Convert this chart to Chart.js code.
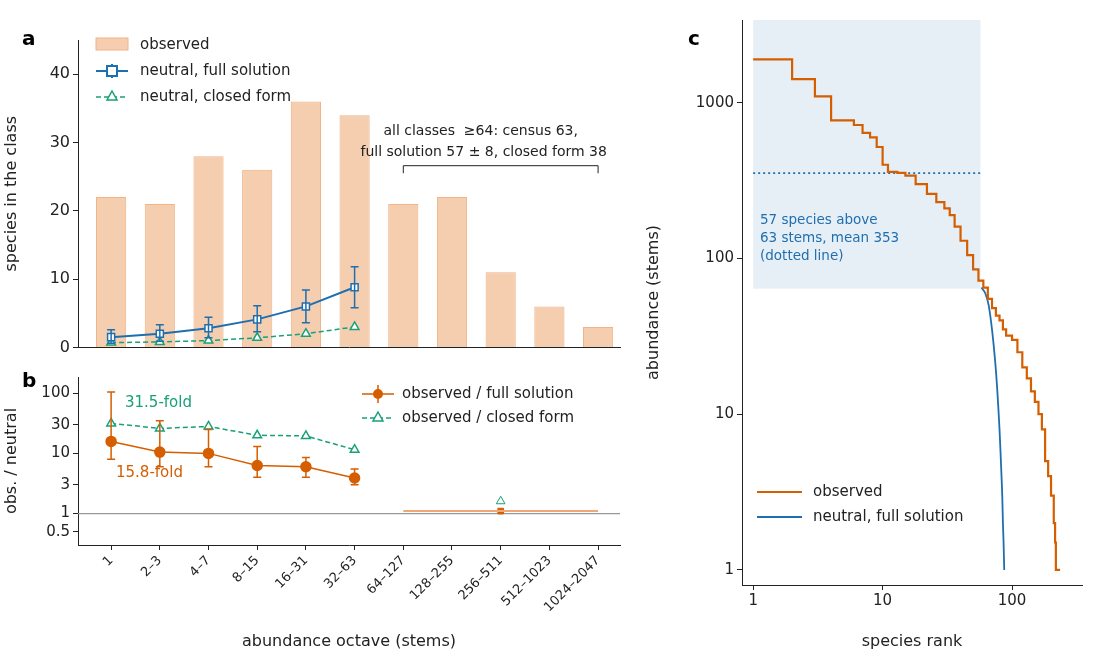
<!DOCTYPE html>
<html><head><meta charset="utf-8">
<script src="https://cdn.jsdelivr.net/npm/chart.js@4/dist/chart.umd.min.js"></script>
<style>body{margin:0;background:#fff;width:1100px;height:655px;position:relative;overflow:hidden}canvas{position:absolute}</style>
</head><body>
<canvas id="ca" style="left:0;top:0;width:640px;height:360px"></canvas>
<canvas id="cb" style="left:0;top:365px;width:640px;height:290px"></canvas>
<canvas id="cc" style="left:640px;top:0;width:460px;height:655px"></canvas>
<script>
const octaves=["1","2–3","4–7","8–15","16–31","32–63","64–127","128–255","256–511","512–1023","1024–2047"];
const observed=[22,21,28,26,36,34,21,22,11,6,3];
const fullSol=[1.5,2.0,2.8,4.1,6.0,8.8];
const fullLo=[0.6,0.9,1.4,2.3,3.6,5.8];
const fullHi=[2.6,3.3,4.4,6.1,8.4,11.8];
const closedForm=[0.7,0.8,1.0,1.4,2.0,3.0];
const ratioFull=[15.8,10.5,10,6.3,6,3.9];
const ratioFullLo=[8,6,6,4,4,3];
const ratioFullHi=[105,35,25,13,8.5,5.5];
const ratioClosed=[31.5,26,28,20,19.5,11.5];
const tailRatioFull=1.1, tailRatioClosed=1.6, tailIndex=8;
const obsRank=[1,2,3,4,5,6,7,8,9,10,11,13,15,18,22,26,30,33,36,40,45,50,55,60,65,70,75,80,85,90,100,110,120,130,140,150,160,170,180,190,200,210,215,218,235];
const obsAbund=[1900,1420,1100,770,770,720,640,600,520,400,360,355,340,300,260,230,210,190,160,130,105,85,72,65,55,48,43,40,35,32,30,25,20,17,14,12,10,8,5,4,3,2,1.5,1,1];
const neuRank=[58,62,66,70,74,77,80,82,84,85,86,87];
const neuAbund=[65,60,50,35,22,14,8,5,3,2,1.5,1];
const meanAbove=353, speciesAbove=57, censusThreshold=63;

const BLUE='#1f6fb0',GREEN='#18a078',ORANGE='#d55e00',FONT='"DejaVu Sans"';
Chart.defaults.font.family=FONT;Chart.defaults.color='#222';Chart.defaults.animation=false;
const fixW=w=>function(s){s.width=w};const fixH=h=>function(s){s.height=h};
const pts=(ys,off=0)=>ys.map((y,i)=>({x:i+off,y}));
const tickGrid={display:true,drawOnChartArea:false,drawTicks:true,tickLength:5,color:'#222',offset:false};

function errPlugin(lo,hi,color){return{id:'err',afterDatasetsDraw(c){const x=c.scales.x,y=c.scales.y,g=c.ctx;g.save();g.strokeStyle=color;g.lineWidth=1.5;
lo.forEach((l,i)=>{const px=x.getPixelForValue(i);g.beginPath();g.moveTo(px,y.getPixelForValue(l));g.lineTo(px,y.getPixelForValue(hi[i]));
g.moveTo(px-4,y.getPixelForValue(l));g.lineTo(px+4,y.getPixelForValue(l));g.moveTo(px-4,y.getPixelForValue(hi[i]));g.lineTo(px+4,y.getPixelForValue(hi[i]));g.stroke();});g.restore();}}}

// Panel a
new Chart(document.getElementById('ca'),{type:'bar',data:{datasets:[
{type:'bar',data:pts(observed),backgroundColor:'rgba(241,190,150,0.75)',borderColor:'#f0b488',borderWidth:1,barPercentage:0.62,categoryPercentage:1,order:3},
{type:'line',data:pts(fullSol),borderColor:BLUE,borderWidth:2,pointStyle:'rect',pointRadius:5,pointBackgroundColor:'#fff',pointBorderColor:BLUE,pointBorderWidth:1.5,order:1},
{type:'line',data:pts(closedForm),borderColor:GREEN,borderWidth:1.5,borderDash:[5,3],pointStyle:'triangle',pointRadius:5,pointBackgroundColor:'#fff',pointBorderColor:GREEN,order:2}]},
options:{responsive:false,devicePixelRatio:1,layout:{padding:{top:40,right:20,left:0,bottom:0}},plugins:{legend:{display:false},tooltip:{enabled:false}},
scales:{x:{type:'linear',offset:false,min:-0.68,max:10.45,afterBuildTicks(s){s.ticks=octaves.map((_,i)=>({value:i}))},ticks:{display:false},grid:{display:false,offset:false},border:{color:'#222'},afterFit:fixH(5)},
y:{min:0,max:45,afterBuildTicks(s){s.ticks=[0,10,20,30,40].map(v=>({value:v}))},ticks:{font:{size:16}},grid:tickGrid,border:{color:'#222'},title:{display:true,text:'species in the class',font:{size:16},padding:2},afterFit:fixW(78)}}},
plugins:[errPlugin(fullLo,fullHi,BLUE),{id:'ann',afterDraw(c){const g=c.ctx,x=c.scales.x,y=c.scales.y;g.save();
g.font='bold 20px '+FONT;g.fillStyle='#000';g.fillText('a',22,45);
g.font='15px '+FONT;g.textBaseline='middle';
g.fillStyle='rgba(241,190,150,0.75)';g.strokeStyle='#f0b488';g.fillRect(96,38,32,12);g.strokeRect(96,38,32,12);
g.fillStyle='#222';g.fillText('observed',140,45);
g.strokeStyle=BLUE;g.lineWidth=2;g.beginPath();g.moveTo(96,71);g.lineTo(128,71);g.moveTo(112,64);g.lineTo(112,78);g.stroke();g.fillStyle='#fff';g.fillRect(107,66,10,10);g.strokeRect(107,66,10,10);
g.fillStyle='#222';g.fillText('neutral, full solution',140,71);
g.strokeStyle=GREEN;g.lineWidth=1.5;g.setLineDash([5,3]);g.beginPath();g.moveTo(96,97);g.lineTo(128,97);g.stroke();g.setLineDash([]);
g.fillStyle='#fff';g.beginPath();g.moveTo(112,91);g.lineTo(117,100);g.lineTo(107,100);g.closePath();g.fill();g.stroke();
g.fillStyle='#222';g.fillText('neutral, closed form',140,97);
const x1=x.getPixelForValue(6),x2=x.getPixelForValue(10);g.strokeStyle='#222';g.lineWidth=1;g.beginPath();g.moveTo(x1,y.getPixelForValue(25.5));g.lineTo(x1,y.getPixelForValue(26.6));g.lineTo(x2,y.getPixelForValue(26.6));g.lineTo(x2,y.getPixelForValue(25.5));g.stroke();
g.textAlign='center';g.font='14px '+FONT;g.fillText('all classes  ≥64: census 63,',(x1+x2)/2-20,131);g.fillText('full solution 57 ± 8, closed form 38',(x1+x2)/2-17,152);
g.restore();}}]});

// Panel b
new Chart(document.getElementById('cb'),{type:'line',data:{datasets:[
{data:pts(ratioFull),borderColor:ORANGE,borderWidth:1.5,pointRadius:5,pointBackgroundColor:ORANGE,pointBorderColor:ORANGE},
{data:pts(ratioClosed),borderColor:GREEN,borderWidth:1.5,borderDash:[5,3],pointStyle:'triangle',pointRadius:5,pointBackgroundColor:'#fff',pointBorderColor:GREEN},
{data:[{x:tailIndex,y:tailRatioClosed}],pointStyle:'triangle',pointRadius:5,pointBackgroundColor:'#fff',pointBorderColor:GREEN,showLine:false},
{data:[{x:6,y:tailRatioFull},{x:10,y:tailRatioFull}],borderColor:'#f0a878',borderWidth:2,pointRadius:0},
{data:[{x:tailIndex,y:tailRatioFull}],pointStyle:'rect',pointRadius:4,pointBackgroundColor:ORANGE,pointBorderColor:ORANGE,showLine:false}]},
options:{responsive:false,devicePixelRatio:1,layout:{padding:{top:7,right:20}},plugins:{legend:{display:false},tooltip:{enabled:false}},
scales:{x:{type:'linear',min:-0.68,max:10.45,afterBuildTicks(s){s.ticks=octaves.map((_,i)=>({value:i}))},ticks:{autoSkip:false,maxRotation:45,minRotation:45,font:{size:13},callback:v=>octaves[v]},grid:tickGrid,border:{color:'#222'},title:{display:true,text:'abundance octave (stems)',font:{size:16},padding:{top:12}},afterFit:fixH(110)},
y:{type:'logarithmic',min:0.33,max:186,afterBuildTicks(s){s.ticks=[0.5,1,3,10,30,100].map(v=>({value:v}))},ticks:{font:{size:15}},grid:tickGrid,border:{color:'#222'},title:{display:true,text:'obs. / neutral',font:{size:16},padding:2},afterFit:fixW(78)}}},
plugins:[{id:'one',beforeDatasetsDraw(c){const g=c.ctx,y=c.scales.y.getPixelForValue(1);g.save();g.strokeStyle='#999';g.lineWidth=1.2;g.beginPath();g.moveTo(c.chartArea.left,y);g.lineTo(c.chartArea.right,y);g.stroke();g.restore();}},
errPlugin(ratioFullLo,ratioFullHi,ORANGE),{id:'annb',afterDraw(c){const g=c.ctx;g.save();g.font='bold 20px '+FONT;g.fillStyle='#000';g.fillText('b',22,22);
g.font='15px '+FONT;g.fillStyle=GREEN;g.fillText('31.5-fold',125,42);g.fillStyle=ORANGE;g.fillText('15.8-fold',116,112);
g.textBaseline='middle';g.fillStyle='#222';g.fillText('observed / full solution',402,29);g.fillText('observed / closed form',402,53);
g.strokeStyle=ORANGE;g.lineWidth=1.5;g.beginPath();g.moveTo(362,29);g.lineTo(394,29);g.moveTo(378,20);g.lineTo(378,38);g.stroke();g.fillStyle=ORANGE;g.beginPath();g.arc(378,29,5,0,7);g.fill();
g.strokeStyle=GREEN;g.setLineDash([5,3]);g.beginPath();g.moveTo(362,53);g.lineTo(394,53);g.stroke();g.setLineDash([]);g.fillStyle='#fff';g.beginPath();g.moveTo(378,47);g.lineTo(383,56);g.lineTo(373,56);g.closePath();g.fill();g.stroke();
g.restore();}}]});

// Panel c
new Chart(document.getElementById('cc'),{type:'line',data:{datasets:[
{data:obsRank.map((r,i)=>({x:r,y:obsAbund[i]})),borderColor:ORANGE,borderWidth:2.2,pointRadius:0,stepped:'before'},
{data:neuRank.map((r,i)=>({x:r,y:neuAbund[i]})),borderColor:BLUE,borderWidth:1.8,pointRadius:0,tension:0.3},
{data:[{x:1,y:meanAbove},{x:speciesAbove,y:meanAbove}],borderColor:BLUE,borderWidth:1.8,borderDash:[2,3],pointRadius:0}]},
options:{responsive:false,devicePixelRatio:1,layout:{padding:{top:20,right:18}},plugins:{legend:{display:false},tooltip:{enabled:false}},
scales:{x:{type:'logarithmic',min:0.82,max:347,afterBuildTicks(s){s.ticks=[1,10,100].map(v=>({value:v}))},ticks:{font:{size:15},padding:2,callback:v=>String(v)},grid:tickGrid,border:{color:'#222'},title:{display:true,text:'species rank',font:{size:16},padding:{top:4}},afterFit:fixH(70)},
y:{type:'logarithmic',min:0.8,max:3400,afterBuildTicks(s){s.ticks=[1,10,100,1000].map(v=>({value:v}))},ticks:{font:{size:15},callback:v=>String(v)},grid:tickGrid,border:{color:'#222'},title:{display:true,text:'abundance (stems)',font:{size:16},padding:4},afterFit:fixW(102)}}},
plugins:[{id:'box',beforeDatasetsDraw(c){const g=c.ctx,x=c.scales.x,y=c.scales.y;g.save();g.fillStyle='rgba(31,111,176,0.11)';
const l=x.getPixelForValue(1),r=x.getPixelForValue(speciesAbove),t=c.chartArea.top,b=y.getPixelForValue(censusThreshold+1);g.fillRect(l,t,r-l,b-t);
g.fillStyle=BLUE;g.font='13.5px '+FONT;g.fillText('57 species above',120,224);g.fillText('63 stems, mean 353',120,242);g.fillText('(dotted line)',120,260);g.restore();}},
{id:'annc',afterDraw(c){const g=c.ctx;g.save();g.font='bold 20px '+FONT;g.fillStyle='#000';g.fillText('c',48,45);
g.font='15px '+FONT;g.textBaseline='middle';g.fillStyle='#222';g.fillText('observed',173,492);g.fillText('neutral, full solution',173,517);
g.lineWidth=2.2;g.strokeStyle=ORANGE;g.beginPath();g.moveTo(117,492);g.lineTo(162,492);g.stroke();g.lineWidth=1.8;g.strokeStyle=BLUE;g.beginPath();g.moveTo(117,517);g.lineTo(162,517);g.stroke();g.restore();}}]});
</script></body></html>
